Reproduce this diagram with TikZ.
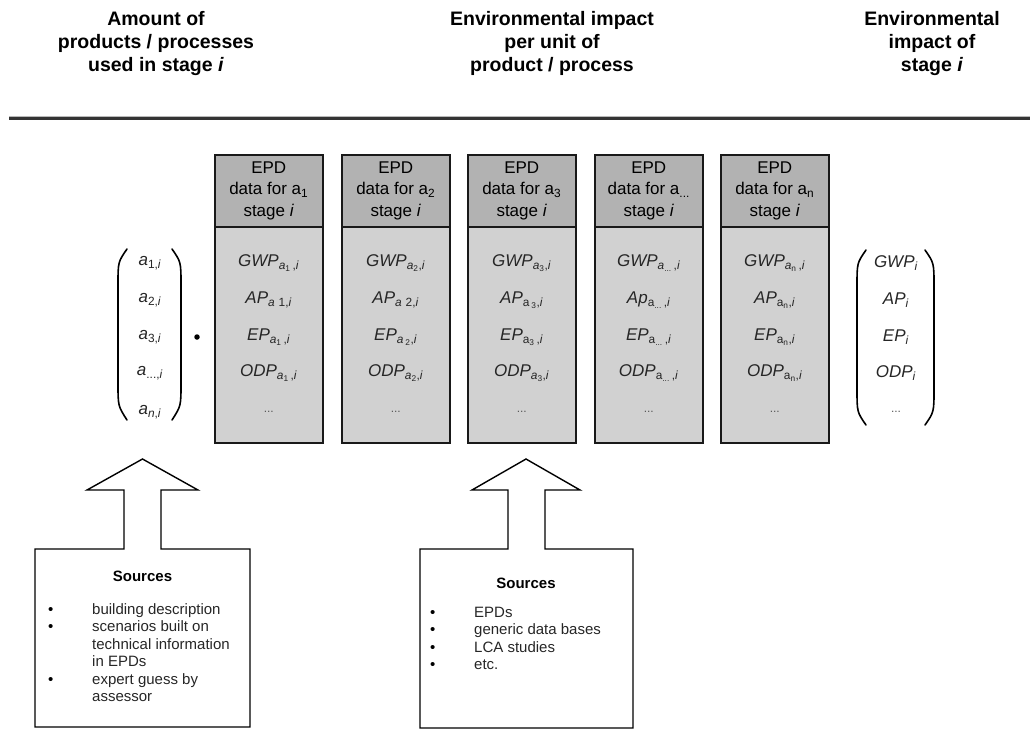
\documentclass[tikz,border=0pt]{standalone}
\usepackage{fontspec}
\setmainfont{Liberation Sans}
\usetikzlibrary{calc}

\definecolor{epdhead}{gray}{0.70}
\definecolor{epdbody}{gray}{0.82}
\definecolor{rulegray}{gray}{0.20}

% text-mode sub- and italic helpers
\newcommand\sbs[1]{\textsubscript{#1}}
\newcommand\itx[1]{\textit{#1}}

\tikzset{
  heading/.style={font=\fontsize{19.5}{23}\selectfont\bfseries, align=center, inner sep=0},
  hdr/.style={draw=black!90, line width=1.5pt, fill=epdhead, anchor=north west,
    minimum width=108pt, minimum height=72pt, inner sep=0, align=center,
    font=\fontsize{17}{21.5}\selectfont},
  bodybox/.style={draw=black!90, line width=1.5pt, fill=epdbody, anchor=north west,
    minimum width=108pt, minimum height=216pt, inner sep=0},
  cell/.style={font=\fontsize{17}{20}\selectfont, inner sep=0, text=black!85},
  dotrow/.style={font=\fontsize{12}{14}\selectfont, inner sep=0, text=black!65},
  paren/.style={line width=1.6pt, line cap=round},
  outline/.style={line width=1.4pt, line join=miter},
  srchead/.style={font=\fontsize{15}{17}\selectfont\bfseries, inner sep=0, anchor=base},
  srcitem/.style={font=\fontsize{15}{17}\selectfont, inner sep=0, anchor=base west, text=black!85},
  bul/.style={font=\fontsize{15}{17}\selectfont, inner sep=0, anchor=base west},
}

% one EPD column: name, left x, header index, four indicator rows
\newcommand\epdcol[7]{%
  \node[bodybox] (body#1) at (#2,226) {};
  \node[hdr] (head#1) at (#2,154) {EPD\\data for a\sbs{#3}\\stage \textit{i}};
  \node[cell] (gwp#1) at ($(body#1.north)+(0,37)$) {#4};
  \node[cell] (ap#1)  at ($(body#1.north)+(0,74)$) {#5};
  \node[cell] (ep#1)  at ($(body#1.north)+(0,111)$) {#6};
  \node[cell] (odp#1) at ($(body#1.north)+(0,147)$) {#7};
  \node[dotrow] (etc#1) at ($(body#1.north)+(0,186)$) {...};
}

\begin{document}
\begin{tikzpicture}[x=1pt,y=-1pt]
\useasboundingbox (0,0) rectangle (1030,729);

% column headings
\node[heading] (hA) at (156,43) {Amount of\\products / processes\\used in stage \textit{i}};
\node[heading] (hB) at (552,43) {Environmental impact\\per unit of\\product / process};
\node[heading] (hC) at (932,43) {Environmental\\impact of\\stage \textit{i}};

% rule under the headings
\draw[line width=3pt, rulegray] (9,118) -- (1030,118);
\draw[line width=0.8pt, gray!55] (9,116.6) -- (1030,116.6);

% amounts vector
\draw[paren] (127,249) .. controls (118,262) .. (118,285) -- (118,383) .. controls (118,406) .. (127,420);
\draw[paren] (172,249) .. controls (181,262) .. (181,285) -- (181,383) .. controls (181,406) .. (172,420);
\node[cell] (a1) at (150,263) {\itx{a}\sbs{1,\itx{i}}};
\node[cell] (a2) at (150,300) {\itx{a}\sbs{2,\itx{i}}};
\node[cell] (a3) at (150,337) {\itx{a}\sbs{3,\itx{i}}};
\node[cell] (ad) at (150,373) {\itx{a}\sbs{...,\itx{i}}};
\node[cell] (an) at (150,412) {\itx{a}\sbs{\itx{n},\itx{i}}};

% product sign
\node[circle, fill=black, inner sep=0, minimum size=5.5pt] (mult) at (197,337) {};

% EPD data columns
\epdcol{1}{214}{1}
  {\itx{GWP}\sbs{\itx{a}\sbs{1}\,,\itx{i}}}
  {\itx{AP}\sbs{\itx{a}\,\,1,\itx{i}}}
  {\itx{EP}\sbs{\itx{a}\sbs{1}\,,\itx{i}}}
  {\itx{ODP}\sbs{\itx{a}\sbs{1}\,,\itx{i}}}
\epdcol{2}{341}{2}
  {\itx{GWP}\sbs{\itx{a}\sbs{2},\itx{i}}}
  {\itx{AP}\sbs{\itx{a}\,\,2,\itx{i}}}
  {\itx{EP}\sbs{\itx{a}\,\sbs{2},\itx{i}}}
  {\itx{ODP}\sbs{\itx{a}\sbs{2},\itx{i}}}
\epdcol{3}{467}{3}
  {\itx{GWP}\sbs{\itx{a}\sbs{3},\itx{i}}}
  {\itx{AP}\sbs{a\,\sbs{3},\itx{i}}}
  {\itx{EP}\sbs{a\sbs{3}\,,\itx{i}}}
  {\itx{ODP}\sbs{\itx{a}\sbs{3},\itx{i}}}
\epdcol{4}{594}{...}
  {\itx{GWP}\sbs{\itx{a}\sbs{...}\,,\itx{i}}}
  {\itx{Ap}\sbs{a\sbs{...}\,,\itx{i}}}
  {\itx{EP}\sbs{a\sbs{...}\,,\itx{i}}}
  {\itx{ODP}\sbs{a\sbs{...}\,,\itx{i}}}
\epdcol{5}{720}{n}
  {\itx{GWP}\sbs{\itx{a}\sbs{n}\,,\itx{i}}}
  {\itx{AP}\sbs{a\sbs{n},\itx{i}}}
  {\itx{EP}\sbs{a\sbs{n},\itx{i}}}
  {\itx{ODP}\sbs{a\sbs{n},\itx{i}}}

% impacts vector
\draw[paren] (866,250) .. controls (857,263) .. (857,286) -- (857,389) .. controls (857,412) .. (866,425);
\draw[paren] (925,250) .. controls (934,263) .. (934,286) -- (934,389) .. controls (934,412) .. (925,425);
\node[cell] (rg) at (896,263) {\itx{GWP}\sbs{\itx{i}}};
\node[cell] (ra) at (896,300) {\itx{AP}\sbs{\itx{i}}};
\node[cell] (re) at (896,337) {\itx{EP}\sbs{\itx{i}}};
\node[cell] (ro) at (896,373) {\itx{ODP}\sbs{\itx{i}}};
\node[dotrow] (rd) at (896,412) {...};

% source box for the amounts, with its arrow
\draw[outline] (35,549) -- (124,549) -- (124,490) -- (87,490) -- (142.5,459)
  -- (198,490) -- (161,490) -- (161,549) -- (250,549) -- (250,727) -- (35,727) -- cycle;
\node[srchead] (src1) at (142.5,581) {Sources};
\foreach \t/\y/\b [count=\k] in {building description/614/1, scenarios built on/631.5/1,
    technical information/649/0, in EPDs/666.5/0, expert guess by/684/1, assessor/701.5/0}{
  \node[srcitem] (srcA-\k) at (92,\y) {\t};
  \ifnum\b=1 \node[bul] (bulA-\k) at (48,\y) {\textbullet}; \fi
}

% source box for the EPD data, with its arrow
\draw[outline] (420,549) -- (508,549) -- (508,490) -- (472,490) -- (526,459)
  -- (580,490) -- (545,490) -- (545,549) -- (633,549) -- (633,728) -- (420,728) -- cycle;
\node[srchead] (src2) at (526,588) {Sources};
\foreach \t/\y [count=\k] in {EPDs/617, generic data bases/634.5, LCA studies/652, etc./669.5}{
  \node[srcitem] (srcB-\k) at (474,\y) {\t};
  \node[bul] (bulB-\k) at (430,\y) {\textbullet};
}
\end{tikzpicture}
\end{document}
